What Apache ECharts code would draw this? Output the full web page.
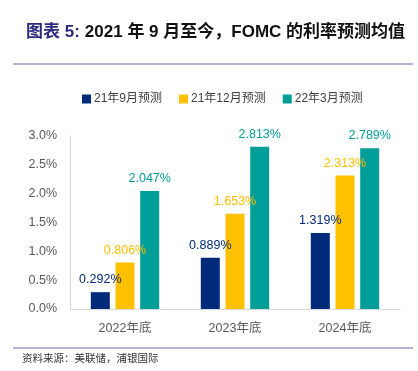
<!DOCTYPE html>
<html><head><meta charset="utf-8">
<script src="https://cdn.jsdelivr.net/npm/echarts@6/dist/echarts.min.js"></script>
<style>html,body{margin:0;padding:0;background:#fff}#c{width:418px;height:371px}</style>
</head><body><div id="c"></div>
<script>
const categories = ['2022年底', '2023年底', '2024年底'];
const seriesNames = ['21年9月预测', '21年12月预测', '22年3月预测'];
const sep21 = [0.292, 0.889, 1.319];
const dec21 = [0.806, 1.653, 2.313];
const mar22 = [2.047, 2.813, 2.789];
const yTicks = [0, 0.5, 1.0, 1.5, 2.0, 2.5, 3.0];
const colors = ['#002A7A', '#FFC000', '#009E98'];
const font = '"Liberation Sans", "Noto Sans CJK SC", sans-serif';

const chart = echarts.init(document.getElementById('c'));
const mk = (name, data, color) => ({
  name, type: 'bar', data, barWidth: 19, barGap: '30%',
  itemStyle: { color },
  label: { show: true, position: 'top', distance: 6, color, fontSize: 12.5, fontFamily: font,
    formatter: p => p.value.toFixed(3) + '%' }
});
chart.setOption({
  animation: false,
  title: {
    left: 21, top: 18,
    text: '{a|图表 5:} {b|2021 年 9 月至今，FOMC 的利率预测均值}',
    textStyle: {
      rich: {
        a: { color: '#2B2A7E', fontSize: 17, fontWeight: 'bold', fontFamily: font },
        b: { color: '#111', fontSize: 17, fontWeight: 'bold', fontFamily: font }
      }
    }
  },
  legend: {
    top: 88, left: 77, itemWidth: 9, itemHeight: 9, itemGap: 17,
    icon: 'rect',
    textStyle: { color: '#404040', fontSize: 12, fontFamily: font, padding: [0, 0, 0, -2] },
    data: seriesNames
  },
  grid: { left: 70, right: 18, top: 136, bottom: 62 },
  xAxis: {
    type: 'category', data: categories,
    axisLine: { lineStyle: { color: '#d9d9d9' } },
    axisTick: { show: false },
    axisLabel: { color: '#595959', fontSize: 12.5, fontFamily: font, margin: 13 }
  },
  yAxis: {
    type: 'value', min: yTicks[0], max: yTicks[yTicks.length - 1], interval: 0.5,
    axisLine: { show: true, lineStyle: { color: '#d9d9d9' } },
    splitLine: { show: false },
    axisLabel: { color: '#595959', fontSize: 12.5, fontFamily: font, margin: 13,
      formatter: v => v.toFixed(1) + '%' }
  },
  graphic: [
    { type: 'line', shape: { x1: 13, y1: 64, x2: 413, y2: 64 }, style: { stroke: '#6A64AA', lineWidth: 1 } },
    { type: 'line', shape: { x1: 13, y1: 348, x2: 413, y2: 348 }, style: { stroke: '#6A64AA', lineWidth: 1 } },
    { type: 'text', left: 22, top: 354, style: { text: '资料来源：美联储，浦银国际', fill: '#333', fontSize: 10.5, fontFamily: font } }
  ],
  series: [mk(seriesNames[0], sep21, colors[0]), mk(seriesNames[1], dec21, colors[1]), mk(seriesNames[2], mar22, colors[2])]
});
</script></body></html>
